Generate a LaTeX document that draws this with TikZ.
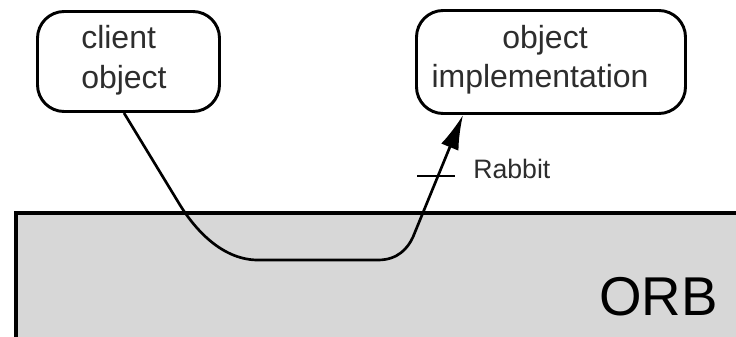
\documentclass[tikz,border=0pt]{standalone}
\usepackage{fontspec}
\setmainfont{Liberation Sans}
\usetikzlibrary{arrows.meta,calc}
\definecolor{orbgray}{RGB}{215,215,215}
\definecolor{txtgray}{RGB}{45,45,45}
\begin{document}
\begin{tikzpicture}[x=0.75pt,y=-0.75pt,
  box/.style={draw=black,line width=2.2pt,rounded corners=20pt,inner sep=0pt},
  lbl/.style={inner sep=0pt,text=txtgray,font=\fontsize{24pt}{30pt}\selectfont},
  conn/.style={draw=black,line width=2pt,-{Latex[length=26pt,width=14pt]}},
  tickmark/.style={draw=black,line width=2pt},
  edge/.style={draw=black,line width=2.4pt}]
\useasboundingbox (0,0) rectangle (736,336);
\clip (0,0) rectangle (736,336);
% ORB layer
\fill[orbgray] (16,213) rectangle (745,345);
\draw[edge] (16,345) -- (16,213) -- (745,213);
\node[inner sep=0pt,anchor=base east,font=\fontsize{41pt}{48pt}\selectfont] (orb) at (718,315) {ORB};
% boxes
\node[box,minimum width=136.5pt,minimum height=75pt] (client) at (128.5,61.5) {};
\node[box,minimum width=201.75pt,minimum height=77.25pt] (impl) at (551,62) {};
\node[lbl,anchor=base west] (cl1) at (81,48) {client};
\node[lbl,anchor=base west] (cl2) at (81,88) {object};
\node[lbl,anchor=base] (im1) at (545,48) {object};
\node[lbl,anchor=base] (im2) at (540,87) {implementation};
% connector
\coordinate (A) at ($(client.south)+(-4.5,0)$);
\coordinate (D) at ($(impl.south)+(-88,0)$);
\draw[conn] (A) -- (180,205) .. controls (198,234) and (225,260) .. (258,260) -- (378,260)
  .. controls (398,260) and (408,248) .. (413,237) -- coordinate[pos=0.5] (tk) (D);
\draw[tickmark] ($(tk)+(-21,0)$) -- ($(tk)+(17,0)$);
\node[inner sep=0pt,anchor=base west,text=txtgray,font=\fontsize{20pt}{24pt}\selectfont] (rabbit) at (473,178) {Rabbit};
\end{tikzpicture}
\end{document}
